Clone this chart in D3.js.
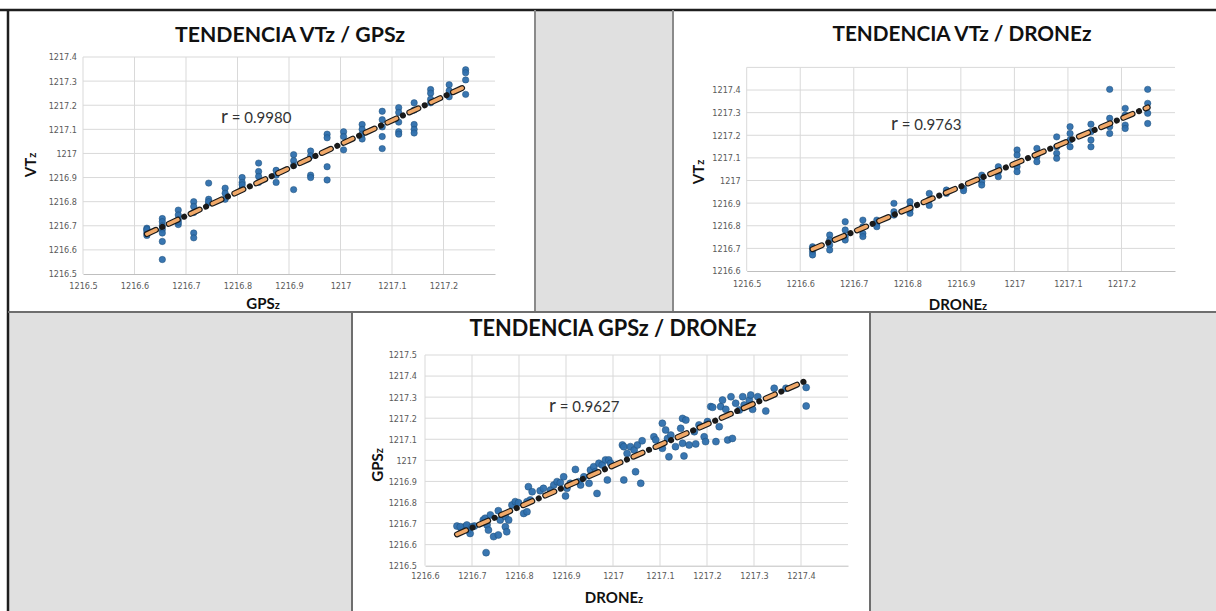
<!DOCTYPE html>
<html>
<head>
<meta charset="utf-8">
<script src="https://cdn.jsdelivr.net/npm/d3@7/dist/d3.min.js"></script>
<style>
  body { margin: 0; background: #fff; }
  svg { display: block; }
  .tick text { font-family: "Liberation Sans Narrow", "DejaVu Sans Condensed", Roboto, sans-serif; font-size: 9px; fill: #5a5a5a; }
  .title { font-family: Lato, "Open Sans", sans-serif; font-weight: 700; fill: #111; }
  .axtitle { font-family: Lato, "Open Sans", sans-serif; font-weight: 700; font-size: 15px; fill: #111; }
  .rtext { font-family: Lato, "Open Sans", sans-serif; font-size: 15px; fill: #333; }
</style>
</head>
<body>
<svg id="chart" width="1216" height="611"></svg>
<script>
// ---- data ----

// TENDENCIA VTz / GPSz
var gpsz1 = [
  1216.624,1216.624,1216.624,1216.624,1216.624,
  1216.654,1216.654,1216.654,1216.654,1216.654,1216.654,1216.654,
  1216.685,1216.685,1216.685,1216.685,1216.685,
  1216.715,1216.715,1216.715,1216.715,1216.715,
  1216.744,1216.744,1216.744,1216.744,
  1216.776,1216.776,1216.776,
  1216.809,1216.809,1216.809,1216.809,
  1216.841,1216.841,1216.841,1216.841,
  1216.875,1216.875,1216.875,
  1216.909,1216.909,1216.909,1216.909,
  1216.942,1216.942,1216.942,1216.942,
  1216.974,1216.974,1216.974,1216.974,
  1217.006,1217.006,1217.006,
  1217.042,1217.042,1217.042,1217.042,
  1217.081,1217.081,1217.081,1217.081,1217.081,
  1217.113,1217.113,1217.113,1217.113,1217.113,
  1217.143,1217.143,1217.143,1217.143,1217.143,
  1217.175,1217.175,1217.175,1217.175,
  1217.211,1217.211,1217.211,
  1217.243,1217.243,1217.243,1217.243
];
var vtz1 = [
  1216.69,1216.68,1216.67,1216.66,1216.685,
  1216.73,1216.717,1216.70,1216.685,1216.67,1216.635,1216.56,
  1216.765,1216.745,1216.725,1216.705,1216.715,
  1216.80,1216.78,1216.755,1216.67,1216.65,
  1216.877,1216.81,1216.795,1216.80,
  1216.856,1216.835,1216.81,
  1216.90,1216.88,1216.855,1216.87,
  1216.96,1216.925,1216.905,1216.88,
  1216.93,1216.91,1216.88,
  1216.995,1216.97,1216.95,1216.85,
  1217.01,1216.99,1216.91,1216.90,
  1217.08,1217.065,1216.945,1216.89,
  1217.09,1217.07,1217.015,
  1217.12,1217.10,1217.06,1217.08,
  1217.175,1217.14,1217.11,1217.07,1217.02,
  1217.19,1217.17,1217.13,1217.09,1217.08,
  1217.21,1217.18,1217.12,1217.10,1217.085,
  1217.265,1217.25,1217.225,1217.21,
  1217.285,1217.26,1217.235,
  1217.347,1217.335,1217.305,1217.245
];

// TENDENCIA VTz / DRONEz
var dronez2 = [
  1216.623,1216.623,1216.623,1216.623,
  1216.655,1216.655,1216.655,1216.655,
  1216.684,1216.684,1216.684,1216.684,
  1216.717,1216.717,1216.717,1216.717,
  1216.743,1216.743,1216.743,
  1216.775,1216.775,1216.775,
  1216.805,1216.805,1216.805,1216.805,
  1216.841,1216.841,1216.841,
  1216.873,1216.873,
  1216.905,1216.905,
  1216.939,1216.939,1216.939,
  1216.970,1216.970,1216.970,
  1217.005,1217.005,1217.005,1217.005,
  1217.042,1217.042,1217.042,
  1217.079,1217.079,1217.079,1217.079,
  1217.104,1217.104,1217.104,1217.104,
  1217.143,1217.143,1217.143,1217.143,
  1217.178,1217.178,1217.178,1217.178,
  1217.207,1217.207,1217.207,1217.207,
  1217.249,1217.249,1217.249,1217.249
];
var vtz2 = [
  1216.707,1216.685,1216.671,1216.70,
  1216.759,1216.737,1216.715,1216.693,
  1216.818,1216.781,1216.752,1216.737,
  1216.825,1216.796,1216.766,1216.752,
  1216.825,1216.81,1216.796,
  1216.899,1216.862,1216.847,
  1216.906,1216.884,1216.87,1216.855,
  1216.943,1216.914,1216.89,
  1216.958,1216.943,
  1216.965,1216.955,
  1217.024,1216.995,1216.98,
  1217.061,1217.039,1217.017,
  1217.135,1217.113,1217.061,1217.039,
  1217.142,1217.105,1217.083,
  1217.193,1217.149,1217.12,1217.098,
  1217.238,1217.208,1217.179,1217.149,
  1217.249,1217.216,1217.179,1217.149,
  1217.403,1217.275,1217.238,1217.208,
  1217.319,1217.289,1217.245,1217.23,
  1217.403,1217.341,1217.297,1217.252
];

// TENDENCIA GPSz / DRONEz
var dronez3 = [
  1216.668,1216.678,1216.685,1216.692,1216.696,1216.705,1216.675,1216.689,1216.700,
  1216.724,1216.728,1216.732,1216.739,1216.735,1216.730,1216.746,1216.756,1216.756,
  1216.760,1216.771,1216.774,1216.771,1216.778,1216.785,1216.792,1216.799,1216.810,
  1216.817,1216.817,1216.820,1216.824,1216.828,1216.845,1216.852,1216.867,1216.874,
  1216.881,1216.888,1216.895,1216.899,1216.902,1216.909,1216.920,1216.927,1216.931,
  1216.938,1216.949,1216.952,1216.959,1216.963,1216.966,1216.970,1216.977,1216.984,
  1216.988,1216.991,1216.995,1217.020,1217.023,1217.023,1217.030,1217.037,1217.045,
  1217.048,1217.052,1217.059,1217.062,1217.087,1217.091,1217.105,1217.105,1217.112,
  1217.116,1217.119,1217.123,1217.133,1217.144,1217.148,1217.148,1217.151,1217.155,
  1217.162,1217.173,1217.176,1217.183,1217.194,1217.197,1217.201,1217.208,1217.212,
  1217.219,1217.226,1217.229,1217.233,1217.240,1217.244,1217.251,1217.254,1217.261,
  1217.269,1217.276,1217.279,1217.290,1217.293,1217.297,1217.308,1217.325,1217.343,
  1217.368,1217.411,1217.411
];
var gpsz3 = [
  1216.688,1216.669,1216.685,1216.669,1216.653,1216.688,1216.685,1216.693,1216.685,
  1216.717,1216.725,1216.693,1216.741,1216.669,1216.562,1216.638,1216.646,1216.761,
  1216.717,1216.685,1216.661,1216.733,1216.717,1216.788,1216.804,1216.799,1216.748,
  1216.756,1216.804,1216.875,1216.812,1216.851,1216.856,1216.867,1216.859,1216.883,
  1216.899,1216.894,1216.922,1216.831,1216.867,1216.891,1216.957,1216.899,1216.883,
  1216.922,1216.891,1216.954,1216.970,1216.946,1216.843,1216.986,1216.978,1217.002,
  1216.907,1217.002,1216.986,1217.073,1217.065,1216.907,1217.033,1217.065,1217.049,
  1216.946,1217.073,1216.891,1217.093,1217.112,1217.097,1217.176,1217.057,1217.144,
  1217.104,1217.017,1217.120,1217.065,1217.152,1217.081,1217.199,1217.021,1217.191,
  1217.073,1217.136,1217.078,1217.168,1217.112,1217.089,1217.184,1217.255,1217.252,
  1217.089,1217.160,1217.255,1217.286,1217.242,1217.097,1217.302,1217.104,1217.271,
  1217.239,1217.302,1217.263,1217.286,1217.310,1217.242,1217.302,1217.234,1217.342,
  1217.342,1217.346,1217.258
];

// tick labels
var ticks1X = [1216.5, 1216.6, 1216.7, 1216.8, 1216.9, 1217, 1217.1, 1217.2];
var ticks1Y = [1216.5, 1216.6, 1216.7, 1216.8, 1216.9, 1217, 1217.1, 1217.2, 1217.3, 1217.4];
var ticks2X = [1216.5, 1216.6, 1216.7, 1216.8, 1216.9, 1217, 1217.1, 1217.2];
var ticks2Y = [1216.6, 1216.7, 1216.8, 1216.9, 1217, 1217.1, 1217.2, 1217.3, 1217.4];
var ticks3X = [1216.6, 1216.7, 1216.8, 1216.9, 1217, 1217.1, 1217.2, 1217.3, 1217.4];
var ticks3Y = [1216.5, 1216.6, 1216.7, 1216.8, 1216.9, 1217, 1217.1, 1217.2, 1217.3, 1217.4, 1217.5];

var svg = d3.select("#chart");

// ---- page frame (table cells) ----
svg.append("rect").attr("x", 535).attr("y", 10).attr("width", 138).attr("height", 302).attr("fill", "#e0e0e0");
svg.append("rect").attr("x", 8).attr("y", 312).attr("width", 344).attr("height", 299).attr("fill", "#e0e0e0");
svg.append("rect").attr("x", 870).attr("y", 312).attr("width", 346).attr("height", 299).attr("fill", "#e0e0e0");

function fmt(d) { return String(+d.toFixed(1)); }

function drawScatter(o) {
  var x = d3.scaleLinear().domain(o.xDomain).range([o.left, o.right]);
  var y = d3.scaleLinear().domain(o.yDomain).range([o.bottom, o.top]);
  var g = svg.append("g");

  // gridlines
  g.selectAll(".vg").data(o.xGrid).enter().append("line")
    .attr("x1", function(d) { return x(d); }).attr("x2", function(d) { return x(d); })
    .attr("y1", o.top).attr("y2", o.bottom)
    .attr("stroke", "#d9d9d9").attr("stroke-width", 1);
  g.selectAll(".hg").data(o.yGrid).enter().append("line")
    .attr("x1", o.left).attr("x2", o.right)
    .attr("y1", function(d) { return y(d); }).attr("y2", function(d) { return y(d); })
    .attr("stroke", "#d9d9d9").attr("stroke-width", 1);

  // axes
  var ax = g.append("g").attr("transform", "translate(0," + o.bottom + ")")
    .call(d3.axisBottom(x).tickValues(o.xTicks).tickSize(0).tickPadding(o.xPad).tickFormat(fmt));
  ax.select(".domain").attr("stroke", "#bfbfbf");
  var ay = g.append("g").attr("transform", "translate(" + o.left + ",0)")
    .call(d3.axisLeft(y).tickValues(o.yTicks).tickSize(0).tickPadding(o.yPad).tickFormat(fmt));
  ay.select(".domain").remove();

  // points
  var pts = o.xs.map(function(v, i) { return [v, o.ys[i]]; });
  g.selectAll(".pt").data(pts).enter().append("circle")
    .attr("cx", function(d) { return x(d[0]); })
    .attr("cy", function(d) { return y(d[1]); })
    .attr("r", o.ptR)
    .attr("fill", "#2e6fad")
    .attr("stroke", "#1f4e79").attr("stroke-width", 0.5)
    .attr("fill-opacity", 0.95);

  // least squares trend line
  var mx = d3.mean(o.xs), my = d3.mean(o.ys);
  var sxy = d3.sum(o.xs, function(v, i) { return (v - mx) * (o.ys[i] - my); });
  var sxx = d3.sum(o.xs, function(v) { return (v - mx) * (v - mx); });
  var b = sxy / sxx, a = my - b * mx;
  var ext = d3.extent(o.xs);
  var tl = ext.map(function(v) { return [x(v), y(a + b * v)]; });
  var line = d3.line();
  g.append("path").attr("d", line(tl)).attr("fill", "none")
    .attr("stroke", "#1a1a1a").attr("stroke-width", 6).attr("stroke-linecap", "round")
    .attr("stroke-dasharray", "10 7 0.1 7");
  g.append("path").attr("d", line(tl)).attr("fill", "none")
    .attr("stroke", "#f0a868").attr("stroke-width", 3.6).attr("stroke-linecap", "round")
    .attr("stroke-dasharray", "10 14.1");

  // texts
  g.append("text").attr("class", "title").attr("x", o.titleX).attr("y", o.titleY)
    .attr("text-anchor", "middle").style("font-size", o.titleSize + "px")
    .attr("textLength", o.titleLen).attr("lengthAdjust", "spacingAndGlyphs")
    .text(o.title);

  var rt = g.append("text").attr("class", "rtext").attr("x", o.rX).attr("y", o.rY);
  rt.append("tspan").style("font-size", "19px").text("r");
  rt.append("tspan").text(" = " + o.r);

  var xt = g.append("text").attr("class", "axtitle").attr("x", o.xTitleX).attr("y", o.xTitleY)
    .attr("text-anchor", "middle");
  xt.append("tspan").text(o.xLabel);
  xt.append("tspan").style("font-size", "11px").text("z");

  var yt = g.append("text").attr("class", "axtitle").attr("text-anchor", "middle")
    .attr("transform", "translate(" + o.yTitleX + "," + o.yTitleY + ") rotate(-90)");
  yt.append("tspan").text(o.yLabel);
  yt.append("tspan").style("font-size", "11px").text("z");
}

drawScatter({
  xs: gpsz1, ys: vtz1, ptR: 3.2,
  xDomain: [1216.5, 1217.3], yDomain: [1216.5, 1217.4],
  left: 83, right: 495, top: 57, bottom: 274,
  xTicks: ticks1X, yTicks: ticks1Y, xGrid: ticks1X, yGrid: ticks1Y.slice(1),
  xPad: 9, yPad: 6,
  title: "TENDENCIA VTz / GPSz", titleX: 290, titleY: 42, titleSize: 21, titleLen: 230,
  r: "0.9980", rX: 221, rY: 123,
  xLabel: "GPS", xTitleX: 263, xTitleY: 309,
  yLabel: "VT", yTitleX: 36, yTitleY: 165
});

drawScatter({
  xs: dronez2, ys: vtz2, ptR: 3.2,
  xDomain: [1216.5, 1217.3], yDomain: [1216.6, 1217.5],
  left: 746.7, right: 1175, top: 67.4, bottom: 271,
  xTicks: ticks2X, yTicks: ticks2Y, xGrid: ticks2X, yGrid: ticks2Y.slice(1).concat([1217.5]),
  xPad: 10, yPad: 6,
  title: "TENDENCIA VTz / DRONEz", titleX: 962, titleY: 41, titleSize: 21, titleLen: 259,
  r: "0.9763", rX: 891, rY: 130,
  xLabel: "DRONE", xTitleX: 958, xTitleY: 310,
  yLabel: "VT", yTitleX: 704, yTitleY: 172
});

drawScatter({
  xs: dronez3, ys: gpsz3, ptR: 3.5,
  xDomain: [1216.6, 1217.5], yDomain: [1216.5, 1217.5],
  left: 425, right: 848, top: 355, bottom: 565.7,
  xTicks: ticks3X, yTicks: ticks3Y, xGrid: ticks3X, yGrid: ticks3Y.slice(1),
  xPad: 7, yPad: 8,
  title: "TENDENCIA GPSz / DRONEz", titleX: 613, titleY: 336, titleSize: 23, titleLen: 287,
  r: "0.9627", rX: 549, rY: 412,
  xLabel: "DRONE", xTitleX: 614, xTitleY: 603,
  yLabel: "GPS", yTitleX: 383, yTitleY: 465
});

// ---- frame lines on top ----
var frame = [
  [0, 10, 1216, 10, "#1e1e1e", 2.5],
  [8, 10, 8, 611, "#1e1e1e", 2.5],
  [535, 10, 535, 312, "#8a8a8a", 2],
  [673, 10, 673, 312, "#8a8a8a", 2],
  [8, 312, 1216, 312, "#6e6e6e", 2],
  [352, 312, 352, 611, "#6e6e6e", 2],
  [870, 312, 870, 611, "#6e6e6e", 2]
];
svg.selectAll(".frame").data(frame).enter().append("line")
  .attr("x1", function(d) { return d[0]; }).attr("y1", function(d) { return d[1]; })
  .attr("x2", function(d) { return d[2]; }).attr("y2", function(d) { return d[3]; })
  .attr("stroke", function(d) { return d[4]; }).attr("stroke-width", function(d) { return d[5]; });
</script>
</body>
</html>
